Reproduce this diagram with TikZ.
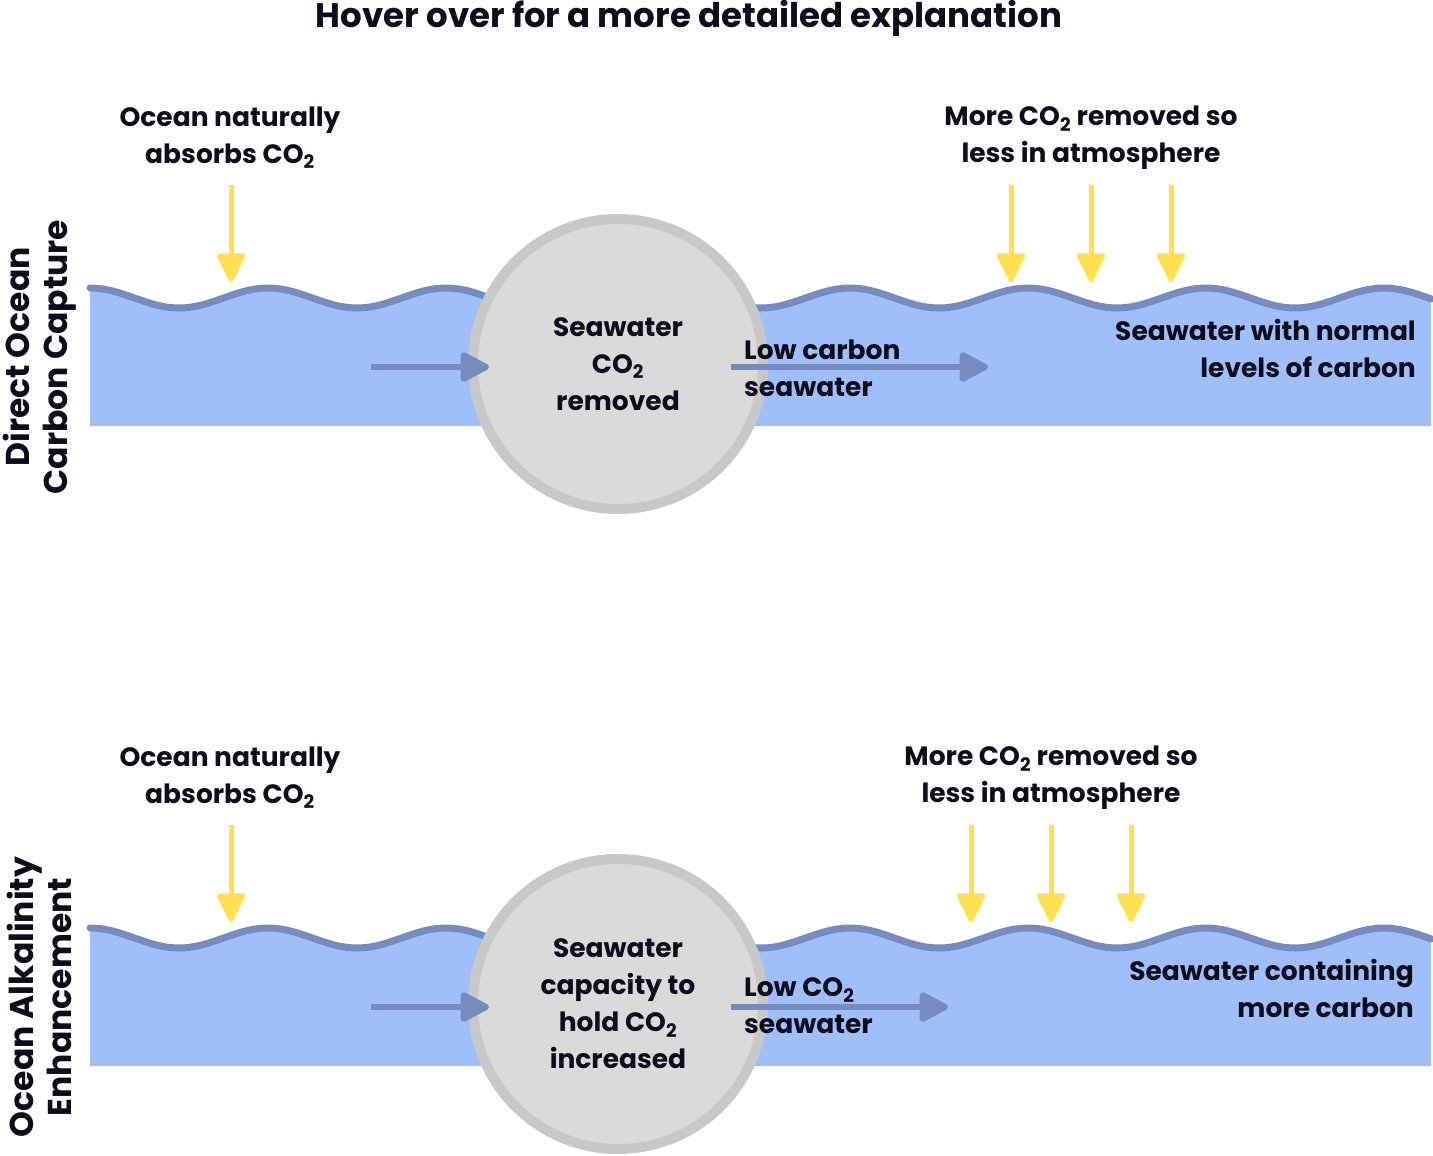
\documentclass[tikz,border=0pt]{standalone}
\usepackage{fontspec}
\setmainfont{Poppins}
\usetikzlibrary{arrows.meta}

\definecolor{waterblue}{RGB}{160,191,250}
\definecolor{waveblue}{RGB}{118,139,190}
\definecolor{sunyellow}{RGB}{255,224,85}
\definecolor{drumgray}{RGB}{216,219,216}
\definecolor{rimgray}{RGB}{200,200,200}
\definecolor{inkdark}{RGB}{12,12,28}

\newcommand{\cotwo}{CO\textsubscript{2}}

\tikzset{
  lbl/.style={font=\fontsize{26.5}{37}\selectfont\bfseries, text=inkdark, align=center, inner sep=0pt},
  side/.style={lbl, font=\fontsize{33}{38}\selectfont\bfseries, rotate=90},
  wave/.style={draw=waveblue, line width=7pt, line cap=round},
  flow/.style={draw=waveblue, line width=6pt, -{Triangle[width=32pt,length=32pt,round]}},
  sun/.style={draw=sunyellow, line width=5pt, -{Triangle[width=30pt,length=32pt,round]}},
  drum/.style={circle, draw=rimgray, fill=drumgray, line width=10pt, minimum size=290pt, inner sep=0pt}
}

\begin{document}
\begin{tikzpicture}[x=1pt,y=-1pt]
\useasboundingbox (0,0) rectangle (1433,1156);

% water bands, both rows
\foreach \yo in {0,640} {
  \fill[waterblue] plot[domain=90:560,samples=90] (\x,{298+\yo-10*cos((\x-90)*2.0225)}) -- (560,{426+\yo}) -- (90,{426+\yo}) -- cycle;
  \fill[waterblue] plot[domain=700:1431,samples=120] (\x,{298+\yo-10*cos((\x-850)*2.0225)}) -- (1431,{426+\yo}) -- (700,{426+\yo}) -- cycle;
  \draw[wave] plot[domain=90:560,samples=90] (\x,{298+\yo-10*cos((\x-90)*2.0225)});
  \draw[wave] plot[domain=700:1431,samples=120] (\x,{298+\yo-10*cos((\x-850)*2.0225)});
}

\node[font=\fontsize{34}{37}\selectfont\bfseries, text=inkdark, inner sep=0pt] (hover) at (689,18) {Hover over for a more detailed explanation};

% direct ocean capture
\node[side] (dacname) at (40,357) {Direct Ocean\\Carbon Capture};
\node[drum, lbl] (dac) at (618,364) {Seawater\\\cotwo\\removed};
\node[lbl] (absorbA) at (230,138) {Ocean naturally\\absorbs \cotwo};
\node[lbl] (moreA) at (1091,138) {More \cotwo{} removed so\\less in atmosphere};
\node[lbl, align=left, anchor=west] (lowA) at (744,368) {Low carbon\\seawater};
\node[lbl, align=right, anchor=east] (normA) at (1416,348) {Seawater with normal\\levels of carbon};

\coordinate (inA) at (371,367);
\coordinate (inAend) at (489,367);
\coordinate (outA) at (731,367);
\coordinate (outAend) at (988,367);
\draw[flow] (inA) -- (inAend);
\draw[flow] (outA) -- (outAend);

\coordinate (skyA) at (231,185);
\coordinate (seaA) at (231,282);
\draw[sun] (skyA) -- (seaA);
\foreach \x in {1011,1091,1171} {
  \coordinate (skyA\x) at (\x,185);
  \coordinate (seaA\x) at (\x,282);
  \draw[sun] (skyA\x) -- (seaA\x);
}

% ocean alkalinity enhancement
\node[side] (oaename) at (39,997) {Ocean Alkalinity\\Enhancement};
\node[drum, lbl] (oae) at (618,1004) {Seawater\\capacity to\\hold \cotwo\\increased};
\node[lbl] (absorbB) at (230,778) {Ocean naturally\\absorbs \cotwo};
\node[lbl] (moreB) at (1051,778) {More \cotwo{} removed so\\less in atmosphere};
\node[lbl, align=left, anchor=west] (lowB) at (744,1006) {Low \cotwo\\seawater};
\node[lbl, align=right, anchor=east] (moreC) at (1414,988) {Seawater containing\\more carbon};

\coordinate (inB) at (371,1007);
\coordinate (inBend) at (489,1007);
\coordinate (outB) at (731,1007);
\coordinate (outBend) at (948,1007);
\draw[flow] (inB) -- (inBend);
\draw[flow] (outB) -- (outBend);

\coordinate (skyB) at (231,825);
\coordinate (seaB) at (231,922);
\draw[sun] (skyB) -- (seaB);
\foreach \x in {971,1051,1131} {
  \coordinate (skyB\x) at (\x,825);
  \coordinate (seaB\x) at (\x,922);
  \draw[sun] (skyB\x) -- (seaB\x);
}
\end{tikzpicture}
\end{document}
